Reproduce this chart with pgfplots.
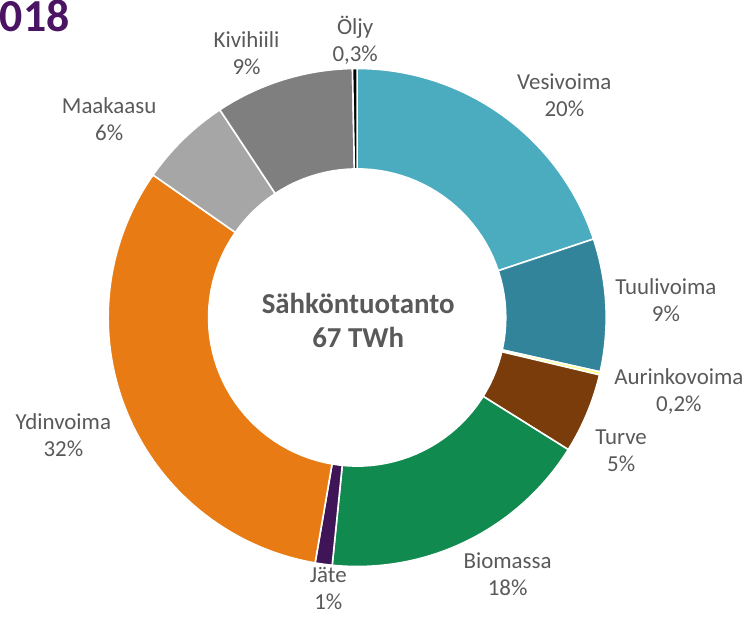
\documentclass[border=0pt]{standalone}
\usepackage{fontspec}
\setmainfont{Carlito}
\usepackage{pgfplots}
\pgfplotsset{compat=1.18}
\definecolor{txt}{HTML}{595959}
\definecolor{ttl}{HTML}{4A1463}
\definecolor{vesi}{HTML}{4BACC0}
\definecolor{tuuli}{HTML}{32849A}
\definecolor{aurinko}{HTML}{FFFF66}
\definecolor{turve}{HTML}{7A3C0A}
\definecolor{bio}{HTML}{108A4E}
\definecolor{jate}{HTML}{3F1558}
\definecolor{ydin}{HTML}{E97B14}
\definecolor{kaasu}{HTML}{A6A6A6}
\definecolor{hiili}{HTML}{7F7F7F}
\definecolor{oljy}{HTML}{000000}
\newcommand\cum{0}
\newcommand\slice[2]{%
  \pgfmathsetmacro\aS{90-3.6*\cum}%
  \pgfmathsetmacro\newcum{\cum+#2}%
  \pgfmathsetmacro\aE{90-3.6*\newcum}%
  \xdef\cum{\newcum}%
  \edef\tmp{\noexpand\addplot[fill=#1, draw=white, line width=0.8pt, domain=\aE:\aS, samples=80, variable=\noexpand\t] ({357+250*cos(\noexpand\t)},{317-250*sin(\noexpand\t)}) -- (axis cs:357,317) -- cycle;}%
  \tmp}
\begin{document}
\begin{tikzpicture}
\begin{axis}[hide axis, scale only axis, width=375pt, height=306.5pt,
  xmin=0, xmax=750, ymin=0, ymax=613, y dir=reverse, clip=false]
% shares in percent, clockwise from top
\slice{vesi}{19.9}
\slice{tuuli}{8.6}
\slice{aurinko}{0.2}
\slice{turve}{5.2}
\slice{bio}{17.7}
\slice{jate}{1.1}
\slice{ydin}{32.0}
\slice{kaasu}{6.0}
\slice{hiili}{9.0}
\slice{oljy}{0.3}
\addplot[fill=white, draw=none, domain=0:360, samples=120, variable=\t] ({357+150*cos(t)},{317-150*sin(t)}) -- cycle;
\tikzset{lab/.style={text=txt, font=\fontsize{11.5}{13.5}\selectfont, align=center}}
\node[lab] at (axis cs:565,94) {Vesivoima\\20\%};
\node[lab] at (axis cs:667,300) {Tuulivoima\\9\%};
\node[lab] at (axis cs:680,391) {Aurinkovoima\\0,2\%};
\node[lab] at (axis cs:622,451) {Turve\\5\%};
\node[lab] at (axis cs:508,575) {Biomassa\\18\%};
\node[lab] at (axis cs:328,589) {Jäte\\1\%};
\node[lab] at (axis cs:62,435) {Ydinvoima\\32\%};
\node[lab] at (axis cs:108,118) {Maakaasu\\6\%};
\node[lab] at (axis cs:246,52) {Kivihiili\\9\%};
\node[lab] at (axis cs:355,39) {Öljy\\0,3\%};
\node[text=txt, font=\bfseries\fontsize{14.5}{17.5}\selectfont, align=center] at (axis cs:358,320) {Sähköntuotanto\\67 TWh};
\node[text=ttl, font=\bfseries\fontsize{23}{23}\selectfont, anchor=base west, inner sep=0pt] at (axis cs:-2,30) {018};
\end{axis}
\end{tikzpicture}
\end{document}
